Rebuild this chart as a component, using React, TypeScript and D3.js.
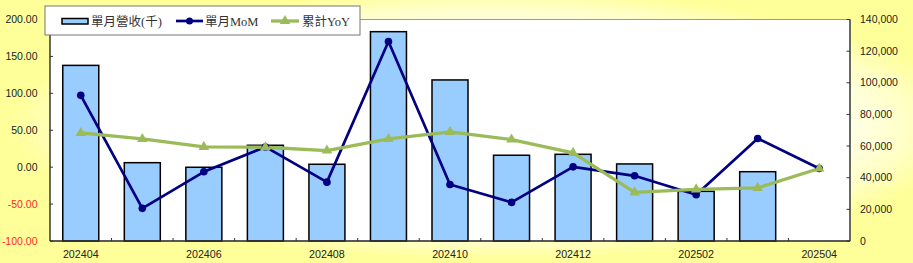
import React from "react";
import * as d3 from "d3";

const months = ["202404","202405","202406","202407","202408","202409","202410","202411","202412","202501","202502","202503","202504"];
const revenue: (number | null)[] = [111000, 49500, 46600, 60500, 48500, 132300, 101800, 54200, 54800, 48700, 31400, 43800, null];
const mom = [97.3, -55.8, -6.3, 27.4, -20.3, 170.2, -23.4, -47.7, 0.4, -11.7, -37.4, 38.8, -1.8];
const yoy = [46.3, 38.2, 27.4, 27.0, 22.5, 38.2, 47.7, 37.4, 19.3, -34.2, -30.1, -28.0, -1.8];
const leftTicks = [200, 150, 100, 50, 0, -50, -100];
const rightTicks = [0, 20000, 40000, 60000, 80000, 100000, 120000, 140000];
const xLabelMonths = ["202404","202406","202408","202410","202412","202502","202504"];
const legendLabels = ["單月營收(千)", "單月MoM", "累計YoY"];

const W = 913, H = 263;
const L = 50, R = 850, T = 19.5, B = 241;

export default function App() {
  const x = d3.scaleBand<string>().domain(months).range([L, R]).paddingInner(0.415).paddingOuter(0.2075);
  const step = x.step();
  const yL = d3.scaleLinear().domain([-100, 200]).range([B, T]);
  const yR = d3.scaleLinear().domain([0, 140000]).range([B, T]);
  const cx = (m: string) => (x(m) as number) + x.bandwidth() / 2;
  const lineGen = d3.line<number>().x((_, i) => cx(months[i])).y((v) => yL(v));
  const fmtR = d3.format(",");
  const tri = d3.symbol().type(d3.symbolTriangle).size(48)();
  const axisFont = "'Liberation Sans', Arial, sans-serif";
  const legendFont = "'Liberation Serif', 'Noto Sans CJK TC', serif";

  return (
    <svg width={W} height={H} style={{ position: "absolute", left: 0, top: 0 }}>
      <defs>
        <radialGradient id="bg" gradientUnits="userSpaceOnUse" cx={0} cy={0} r={1}
          gradientTransform="translate(490,125) scale(480,135)">
          <stop offset="0" stopColor="#FFFFFF" />
          <stop offset="0.7" stopColor="#FFFFF2" />
          <stop offset="0.88" stopColor="#FFFFC4" />
          <stop offset="1" stopColor="#FFFF99" />
        </radialGradient>
      </defs>
      <rect x={0} y={0} width={W} height={H} fill="#FFFF99" />
      <rect x={0} y={0} width={W} height={H} fill="url(#bg)" />
      <rect x={L} y={T} width={R - L} height={B - T} fill="#FFFFFF" stroke="#999" strokeWidth={1} />

      {/* bars */}
      {months.map((m, i) =>
        revenue[i] == null ? null : (
          <rect key={m} x={x(m)} y={yR(revenue[i] as number)} width={x.bandwidth()} height={B - yR(revenue[i] as number)}
            fill="#99CCFF" stroke="#000" strokeWidth={1.5} />
        )
      )}

      {/* lines */}
      <path d={lineGen(mom) || ""} fill="none" stroke="#000080" strokeWidth={2.7} strokeLinejoin="round" />
      <path d={lineGen(yoy) || ""} fill="none" stroke="#9BBB59" strokeWidth={3.3} strokeLinejoin="round" />
      {mom.map((v, i) => (
        <circle key={"m" + i} cx={cx(months[i])} cy={yL(v)} r={3.8} fill="#000080" />
      ))}
      {yoy.map((v, i) => (
        <path key={"y" + i} d={tri || ""} transform={`translate(${cx(months[i])},${yL(v)})`} fill="#9BBB59" />
      ))}

      {/* axes */}
      <line x1={L} x2={L} y1={T} y2={B} stroke="#333" strokeWidth={1.3} />
      <line x1={R} x2={R} y1={T} y2={B} stroke="#333" strokeWidth={1.3} />
      <line x1={L} x2={R} y1={B} y2={B} stroke="#333" strokeWidth={1.3} />
      {d3.range(1, months.length).map((i) => (
        <line key={"bt" + i} x1={L + i * step} x2={L + i * step} y1={B} y2={B - 3} stroke="#333" strokeWidth={1} />
      ))}
      {leftTicks.map((t) => (
        <g key={"lt" + t}>
          <line x1={L} x2={L + 3} y1={yL(t)} y2={yL(t)} stroke="#333" strokeWidth={1} />
          <text x={37.5} y={yL(t)} dy="0.35em" textAnchor="end" fontFamily={axisFont} fontSize={10.5}
            fill={t < 0 ? "#FF2A2A" : "#222"}>{t.toFixed(2)}</text>
        </g>
      ))}
      {rightTicks.map((t) => (
        <g key={"rt" + t}>
          <line x1={R - 3.5} x2={R} y1={yR(t)} y2={yR(t)} stroke="#333" strokeWidth={1} />
          <text x={860} y={yR(t)} dy="0.35em" textAnchor="start" fontFamily={axisFont} fontSize={10.5} fill="#222">{fmtR(t)}</text>
        </g>
      ))}
      {xLabelMonths.map((m) => (
        <text key={"xl" + m} x={cx(m)} y={258} textAnchor="middle" fontFamily={axisFont} fontSize={10.7} fill="#222">{m}</text>
      ))}

      {/* legend */}
      <rect x={45} y={6} width={315} height={29} fill="#FFFFFF" stroke="#777" strokeWidth={1} />
      <rect x={62} y={18.5} width={26} height={5.5} fill="#99CCFF" stroke="#000" strokeWidth={1.5} />
      <text x={91} y={25.5} fontFamily={legendFont} fontSize={12.5} fill="#333">{legendLabels[0]}</text>
      <line x1={176} x2={203} y1={21} y2={21} stroke="#000080" strokeWidth={2.7} />
      <circle cx={189.5} cy={21} r={3.5} fill="#000080" />
      <text x={205} y={25.5} fontFamily={legendFont} fontSize={12.5} fill="#333">{legendLabels[1]}</text>
      <line x1={271} x2={299} y1={21} y2={21} stroke="#9BBB59" strokeWidth={3.3} />
      <path d={tri || ""} transform="translate(285,21)" fill="#9BBB59" />
      <text x={302} y={25.5} fontFamily={legendFont} fontSize={12.5} fill="#333">{legendLabels[2]}</text>
    </svg>
  );
}
